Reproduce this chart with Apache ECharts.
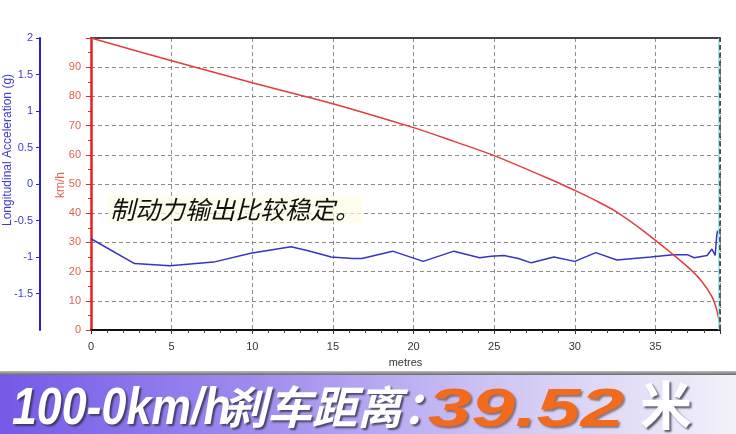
<!DOCTYPE html>
<html><head><meta charset="utf-8">
<script src="https://cdn.jsdelivr.net/npm/echarts@6/dist/echarts.min.js"></script>
<style>html,body{margin:0;padding:0;background:#fff}#c{width:736px;height:434px}</style>
</head><body><div id="c"></div>
<script>
// Speed trace (km/h) vs distance (m)
const speedDist  = [0, 5, 10, 12.5, 15, 20, 22.5, 25, 29.1, 30, 31.3, 32.6, 34, 35, 35.9, 37, 37.8, 38.5, 38.8, 39];
const speedKmh   = [100, 92.2, 84.7, 81.1, 77.5, 69.3, 64.6, 59.7, 50.1, 47.8, 44.3, 40.4, 35, 30.7, 26.7, 21.6, 17.1, 11.4, 6.8, 1.5];
// Longitudinal acceleration (g) vs distance (m)
const accelDist  = [0, 2.7, 4.9, 7.6, 9.9, 12.4, 13.4, 14.9, 16.2, 16.8, 18.7, 20.6, 22.5, 24.1, 24.8, 25.6, 26.5, 27.3, 28.7, 30.0, 31.3, 32.6, 34.7, 36.1, 37.0, 37.4, 38.2, 38.5, 38.7, 38.8, 38.85];
const accelG     = [-0.75, -1.09, -1.12, -1.07, -0.95, -0.86, -0.91, -1.0, -1.02, -1.02, -0.92, -1.06, -0.92, -1.01, -0.99, -0.98, -1.02, -1.08, -1.0, -1.06, -0.94, -1.04, -1.0, -0.97, -0.97, -1.01, -0.98, -0.89, -0.98, -0.70, -0.64];
const distMax = 39;
const annotation = '制动力输出比较稳定。';
const bannerLead = '100-0km/h';
const bannerCjk = '刹车距离：';
const bannerValue = '39.52';
const bannerUnit = '米';

const chart = echarts.init(document.getElementById('c'), null, {renderer: 'canvas'});
const LAT = 'Liberation Sans, Arial, sans-serif';
const CJK = '"Noto Sans CJK SC", sans-serif';
const RED = '#e32222', BLUE = '#2424cc';
const dashed = {type: [4, 3], color: '#8c8c8c', width: 1};
const shadow = {textShadowColor: 'rgba(40,40,60,0.75)', textShadowBlur: 2, textShadowOffsetX: 2, textShadowOffsetY: 2};

chart.setOption({
  animation: false,
  backgroundColor: '#ffffff',
  grid: {left: 91, right: 16, top: 38, bottom: 104},
  xAxis: [{
    type: 'value', min: 0, max: distMax, interval: 5, position: 'bottom',
    axisLine: {show: true, onZero: false, lineStyle: {color: '#111', width: 2}},
    axisTick: {show: true, length: 4, lineStyle: {color: '#333'}},
    minorTick: {show: true, splitNumber: 5, length: 3, lineStyle: {color: '#444'}},
    axisLabel: {color: '#333', fontSize: 11, fontFamily: LAT, margin: 11, showMaxLabel: false},
    splitLine: {show: true, lineStyle: dashed},
    name: 'metres', nameLocation: 'middle', nameGap: 27,
    nameTextStyle: {color: '#333', fontSize: 11, fontFamily: LAT}
  }, {
    type: 'value', min: 0, max: distMax, position: 'top',
    axisLine: {show: true, onZero: false, lineStyle: {color: '#444', width: 2}},
    axisTick: {show: false}, axisLabel: {show: false}, splitLine: {show: false}
  }],
  yAxis: [{
    type: 'value', min: 0, max: 100, interval: 10, position: 'left',
    axisLine: {show: true, onZero: false, lineStyle: {color: RED, width: 2.5}},
    axisTick: {show: true, length: 5, lineStyle: {color: RED}},
    minorTick: {show: true, splitNumber: 2, length: 3, lineStyle: {color: RED}},
    axisLabel: {color: '#e3604e', fontSize: 11, fontFamily: LAT, margin: 10, showMaxLabel: false},
    splitLine: {show: true, lineStyle: dashed}
  }, {
    type: 'value', min: -2, max: 2, interval: 0.5, position: 'left', offset: 51,
    axisLine: {show: true, onZero: false, lineStyle: {color: BLUE, width: 2}},
    axisTick: {show: true, length: 4, lineStyle: {color: BLUE}},
    axisLabel: {color: '#3c3cd4', fontSize: 11, fontFamily: LAT, margin: 7, showMinLabel: false},
    splitLine: {show: false}
  }],
  series: [{
    type: 'line', yAxisIndex: 1, showSymbol: false, symbol: 'none',
    data: accelDist.map((d, i) => [d, accelG[i]]),
    lineStyle: {color: '#3434c8', width: 1.5},
    markLine: {silent: true, symbol: 'none', label: {show: false},
      data: [{xAxis: distMax - 0.07, lineStyle: {color: '#86e4e4', width: 1.5, type: 'solid'}}]}
  }, {
    type: 'line', yAxisIndex: 0, showSymbol: false, symbol: 'none', smooth: 0.3,
    data: speedDist.map((d, i) => [d, speedKmh[i]]),
    lineStyle: {color: '#e43c3c', width: 1.5},
    markLine: {silent: true, symbol: 'none', label: {show: false},
      data: [{xAxis: distMax, lineStyle: {color: '#333', width: 1.5, type: [5, 3]}}]}
  }],
  graphic: [
    {type: 'text', x: 8, y: 150, rotation: Math.PI / 2,
     style: {text: 'Longitudinal Acceleration (g)', fill: '#3c3cd4', font: '12px ' + LAT, align: 'center', verticalAlign: 'middle', textAlign: 'center', textVerticalAlign: 'middle'}},
    {type: 'text', x: 61, y: 185, rotation: Math.PI / 2,
     style: {text: 'km/h', fill: '#e3604e', font: '12px ' + LAT, align: 'center', verticalAlign: 'middle', textAlign: 'center', textVerticalAlign: 'middle'}},
    {type: 'text', x: 108, y: 209, z: 50,
     style: {text: annotation, fill: '#111', font: 'italic 25px ' + CJK, verticalAlign: 'middle', textVerticalAlign: 'middle',
       backgroundColor: 'rgba(255,253,228,0.7)', padding: [1, 2]}},
    // banner
    {type: 'rect', z: 40, shape: {x: 0, y: 371, width: 736, height: 4},
     style: {fill: new echarts.graphic.LinearGradient(0, 0, 0, 1, [{offset: 0, color: '#bdbdbd'}, {offset: 1, color: '#6a6a6a'}])}},
    {type: 'rect', z: 40, shape: {x: 0, y: 375, width: 736, height: 59},
     style: {fill: new echarts.graphic.LinearGradient(0, 0, 1, 0, [
       {offset: 0, color: '#7559e6'}, {offset: 0.35, color: '#a08cee'}, {offset: 0.7, color: '#d2c9f4'}, {offset: 1, color: '#f3f1fa'}])}},
    {type: 'text', z: 45, x: 12, y: 436, scaleX: 0.86,
     style: Object.assign({text: bannerLead, fill: '#ffffff', font: 'italic bold 52px ' + LAT, verticalAlign: 'bottom', textVerticalAlign: 'bottom'}, shadow)},
    {type: 'text', z: 45, x: 222, y: 429,
     style: Object.assign({text: bannerCjk, fill: '#ffffff', font: 'italic bold 45px ' + CJK, verticalAlign: 'bottom', textVerticalAlign: 'bottom'}, shadow)},
    {type: 'text', z: 45, x: 428, y: 438, scaleX: 1.45,
     style: Object.assign({text: bannerValue, fill: '#f26a1c', font: 'italic bold 54px ' + LAT, verticalAlign: 'bottom', textVerticalAlign: 'bottom'}, shadow, {textShadowColor: 'rgba(70,40,30,0.55)'})},
    {type: 'text', z: 45, x: 640, y: 431,
     style: Object.assign({text: bannerUnit, fill: '#ffffff', font: 'bold 52px ' + CJK, verticalAlign: 'bottom', textVerticalAlign: 'bottom'}, shadow)}
  ]
});
</script>
</body></html>
